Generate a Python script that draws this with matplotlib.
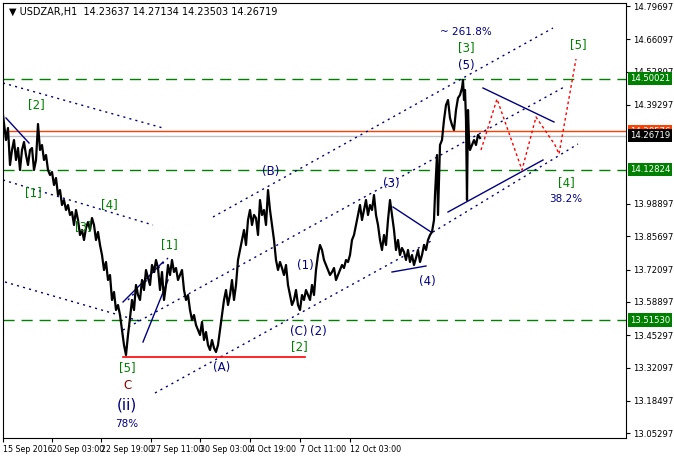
import matplotlib
matplotlib.use("Agg")
import matplotlib.pyplot as plt

# ---- data (x = bar column, y in screen rows, converted to price) ----
TOP_PRICE, PX_PER_UNIT, ROW0 = 14.79697, 245.0, 6.0
def to_price(rows):
    return [TOP_PRICE - (r - ROW0) / PX_PER_UNIT for r in rows]

price_points = [
    (0,115),(3,140),(5,128),(7,165),(9,150),(11,140),(13,160),(15,148),(17,170),(19,150),
    (21,142),(23,155),(25,165),(27,150),(29,148),(31,170),(33,160),(35,124),(37,150),(39,145),
    (41,160),(43,155),(45,170),(47,175),(49,172),(51,185),(53,178),(55,195),(57,190),(59,205),
    (61,200),(63,210),(65,205),(67,215),(69,212),(71,225),(73,210),(75,220),(77,235),(79,230),
    (81,240),(83,228),(85,222),(87,230),(89,218),(91,225),(93,240),(95,232),(97,245),(99,255),
    (101,270),(103,262),(105,280),(107,275),(109,300),(111,292),(113,310),(115,305),(117,315),(119,330),
    (121,345),(123,355),(125,335),(127,318),(129,300),(131,310),(133,285),(135,295),(137,300),(139,280),
    (141,290),(143,270),(145,278),(147,285),(149,265),(151,272),(153,260),(155,268),(157,290),(159,272),
    (161,300),(163,285),(165,265),(167,275),(169,260),(171,272),(173,268),(175,280),(177,275),(179,270),
    (181,290),(183,300),(185,295),(187,310),(189,320),(191,315),(193,325),(195,330),(197,335),(199,322),
    (201,340),(203,332),(205,345),(207,350),(209,340),(211,348),(213,352),(215,345),(217,330),(219,315),
    (221,300),(223,290),(225,305),(227,295),(229,280),(231,300),(233,285),(235,260),(237,250),(239,240),
    (241,230),(243,245),(245,220),(247,210),(249,225),(251,215),(253,218),(255,235),(257,200),(259,215),
    (261,210),(263,225),(265,190),(267,210),(269,225),(271,240),(273,260),(275,270),(277,262),(279,268),
    (281,275),(283,265),(285,285),(287,295),(289,305),(291,300),(293,290),(295,305),(297,310),(299,295),
    (301,300),(303,290),(305,295),(307,300),(309,285),(311,295),(313,270),(315,255),(317,245),(319,250),
    (321,260),(323,265),(325,270),(327,275),(329,272),(331,268),(333,280),(335,275),(337,270),(339,265),
    (341,268),(343,260),(345,262),(347,255),(349,240),(351,235),(353,225),(355,215),(357,205),(359,220),
    (361,210),(363,200),(365,215),(367,205),(369,210),(371,195),(373,215),(375,225),(377,240),(379,250),
    (381,235),(383,245),(385,220),(387,200),(389,215),(391,230),(393,250),(395,240),(397,255),(399,248),
    (401,252),(403,260),(405,250),(407,262),(409,255),(411,265),(413,258),(415,250),(417,262),(419,255),
    (421,245),(423,250),(425,240),(427,235),(429,232),(431,220),(432,195),(433,175),(434,155),(435,215),
    (437,145),(439,140),(441,120),(443,105),(445,100),(447,118),(449,125),(451,130),(453,110),(455,98),
    (457,95),(459,88),(460,80),(461,100),(462,90),(463,120),(464,200),(465,110),(466,140),(467,150),
    (469,145),(471,140),(473,145),(475,135),(477,138),
]
price_x = [p[0] for p in price_points]
close_price = to_price([p[1] for p in price_points])

hlines_dashed = [14.50021, 14.12824, 13.51530]
orange_level, last_price = 14.28576, 14.26719

# channel / trend lines: (x0, row0, x1, row1)
dotted_lines = [(210, 217, 550, 28), (120, 330, 563, 86), (152, 393, 430, 240),
                (0, 83, 160, 128), (0, 180, 150, 225), (2, 282, 140, 322),
                (125, 300, 165, 258), (430, 232, 575, 144)]
solid_lines = [(3, 118, 26, 143), (120, 302, 160, 262), (140, 342, 165, 280),
               (390, 207, 428, 232), (389, 272, 423, 266), (480, 88, 551, 122),
               (445, 212, 540, 160)]
red_seg = (120, 357, 302, 357)
proj_x = [478, 494, 519, 533, 552, 556, 573]
proj_rows = [150, 99, 170, 117, 145, 154, 59]

labels = [("[2]", 33, 105, "g"), ("[1]", 30, 193, "g"), ("[4]", 106, 205, "g"), ("[3]", 80, 227, "g"),
          ("[1]", 166, 245, "g"), ("[5]", 124, 368, "g"), ("C", 124, 385, "r"), ("(A)", 219, 368, "b"),
          ("(B)", 268, 171, "b"), ("(C)", 296, 331, "b"), ("(2)", 315, 331, "b"), ("[2]", 296, 347, "g"),
          ("(1)", 302, 265, "b"), ("(3)", 388, 183, "b"), ("(4)", 424, 281, "b"), ("(5)", 463, 66, "b"),
          ("[3]", 463, 48, "g"), ("[5]", 575, 45, "g"), ("[4]", 563, 183, "g")]
small_labels = [("~ 261.8%", 463, 32), ("78%", 124, 424), ("38.2%", 563, 199)]

date_pos = [0, 49, 98, 148, 197, 247, 297, 347]
date_labels = ["15 Sep 2016", "20 Sep 03:00", "22 Sep 19:00", "27 Sep 11:00",
               "30 Sep 03:00", "4 Oct 19:00", "7 Oct 11:00", "12 Oct 03:00"]
yticks = [14.79697, 14.66097, 14.52897, 14.39297, 13.98897, 13.85697, 13.72097,
          13.58897, 13.45297, 13.32097, 13.18497, 13.05297]

# ---- drawing ----
W, H = 674, 459
fig = plt.figure(figsize=(W/100, H/100), dpi=100)
ax = fig.add_axes([3/W, 1-438/H, 623/W, 435/H])
ax.set_xlim(0, 623)
ax.set_ylim(to_price([438])[0], to_price([3])[0])
NAVY, GREEN = "#000080", "#008000"

for lv in hlines_dashed:
    ax.axhline(lv, color=GREEN, lw=1, ls=(0, (8, 5)))
ax.axhline(orange_level, color="#ff4000", lw=1)
ax.axhline(last_price, color="#c0c0c0", lw=1)

for x0, r0, x1, r1 in dotted_lines:
    ax.plot([x0, x1], to_price([r0, r1]), color=NAVY, lw=1, ls=(0, (1.5, 3)))
for x0, r0, x1, r1 in solid_lines:
    ax.plot([x0, x1], to_price([r0, r1]), color=NAVY, lw=1)
ax.plot([red_seg[0], red_seg[2]], to_price([red_seg[1], red_seg[3]]), color="red", lw=1.2)
ax.plot(proj_x, to_price(proj_rows), color="red", lw=1, ls=(0, (2, 2)))
ax.plot(price_x, close_price, color="black", lw=1.6)

cmap = {"g": GREEN, "b": NAVY, "r": "#8b0000"}
for t, x, r, c in labels:
    ax.text(x, to_price([r])[0], t, color=cmap[c], fontsize=8.5, ha="center", va="center")
ax.text(124, to_price([405])[0], "(ii)", color=NAVY, fontsize=11, ha="center", va="center")
for t, x, r in small_labels:
    ax.text(x, to_price([r])[0], t, color=NAVY, fontsize=7.5, ha="center", va="center")

ax.text(6, to_price([12])[0], "\u25bc USDZAR,H1  14.23637 14.27134 14.23503 14.26719",
        fontsize=7, color="black", va="center")

ax.set_xticks(date_pos)
ax.set_xticklabels(date_labels, fontsize=5.7)
ax.set_yticks(yticks)
ax.set_yticklabels([f"{v:.5f}" for v in yticks], fontsize=6.1)
ax.yaxis.tick_right()
ax.tick_params(length=3, width=0.8, pad=2)
for lbl in ax.get_xticklabels():
    lbl.set_ha("left")
for s in ax.spines.values():
    s.set_linewidth(0.8)

for lv, fc in [(orange_level, "#ff4000"), (14.50021, GREEN), (14.12824, GREEN),
               (13.51530, GREEN), (last_price, "black")]:
    ax.text(1.006, lv, f"{lv:.5f}", transform=ax.get_yaxis_transform(), fontsize=6.1,
            color="white", va="center", ha="left", zorder=5,
            bbox=dict(boxstyle="square,pad=0.25", fc=fc, ec="none"))

fig.savefig("out.png", dpi=100)
